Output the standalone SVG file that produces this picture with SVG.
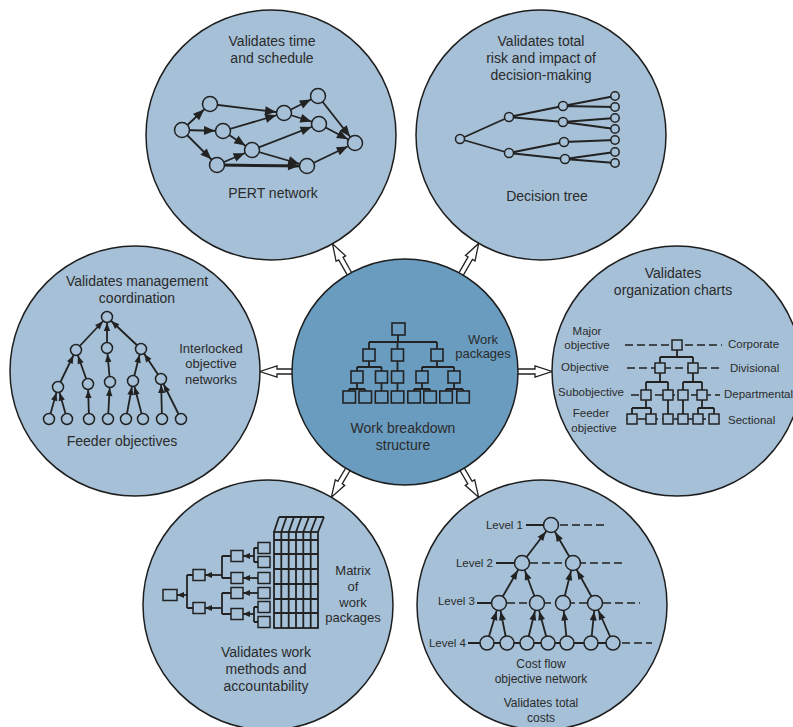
<svg xmlns="http://www.w3.org/2000/svg" width="793" height="727" viewBox="0 0 793 727">
<style>
.bg{fill:#a5c0d7;stroke:#1e1e1e;stroke-width:1.5}
.ctr{fill:#6a9cc0;stroke:#1e1e1e;stroke-width:1.5}
.e{stroke:#222;stroke-width:1.8;fill:none}
.n{fill:#a5c0d7;stroke:#222;stroke-width:1.5}
.bx{fill:#a5c0d7;stroke:#222;stroke-width:1.5}
.cb{fill:#6a9cc0;stroke:#222;stroke-width:1.6}
.d{stroke:#222;stroke-width:1.6;fill:none;stroke-dasharray:8 4}
.t{font-family:"Liberation Sans",Arial,sans-serif;font-size:14px;fill:#2b2b2b;text-anchor:middle}
.s{font-size:11.5px}
.m{font-size:12px}
.w{font-size:13px}
.l{text-anchor:start}
.r{text-anchor:end}
.arr{fill:#fff;stroke:#222;stroke-width:1.3}
</style>
<defs>
<path id="arr" class="arr" d="M-38,-2.5 L-17,-2.5 L-17,-5.5 L0,0 L-17,5.5 L-17,2.5 L-38,2.5 Z"/>
<marker id="ah" markerUnits="userSpaceOnUse" markerWidth="20" markerHeight="20" refX="19" refY="0" orient="auto" overflow="visible"><path d="M0,-4.5 L11,0 L0,4.5 Z" fill="#222"/></marker>
<marker id="ah2" markerUnits="userSpaceOnUse" markerWidth="20" markerHeight="20" refX="14" refY="0" orient="auto" overflow="visible"><path d="M0,-3.2 L8,0 L0,3.2 Z" fill="#222"/></marker>
<marker id="ah3" markerUnits="userSpaceOnUse" markerWidth="20" markerHeight="20" refX="17.5" refY="0" orient="auto" overflow="visible"><path d="M0,-3.5 L9,0 L0,3.5 Z" fill="#222"/></marker>
<marker id="ah4" markerUnits="userSpaceOnUse" markerWidth="20" markerHeight="20" refX="7" refY="0" orient="auto" overflow="visible"><path d="M0,-3 L7,0 L0,3 Z" fill="#222"/></marker>
</defs>
<rect width="793" height="727" fill="#fff"/>

<g id="connectors">
<use href="#arr" transform="translate(260,371.5) rotate(180)"/>
<use href="#arr" transform="translate(552,371.5)"/>
<use href="#arr" transform="translate(332.5,243.8) rotate(240.5)"/>
<use href="#arr" transform="translate(478.7,243.4) rotate(-60.2)"/>
<use href="#arr" transform="translate(331.4,497.2) rotate(120.5)"/>
<use href="#arr" transform="translate(478.6,497.2) rotate(59.5)"/>
</g>

<g id="pert">
<circle class="bg" cx="271" cy="135" r="125"/>
<text class="t" x="272" y="46">Validates time</text>
<text class="t" x="272" y="63">and schedule</text>
<text class="t" x="273" y="198">PERT network</text>
<g class="e" stroke-width="2" marker-end="url(#ah)">
<line x1="182" y1="130" x2="210" y2="104"/>
<line x1="182" y1="130" x2="223" y2="131"/>
<line x1="182" y1="130" x2="217" y2="165"/>
<line x1="210" y1="104" x2="284" y2="113"/>
<line x1="223" y1="131" x2="284" y2="113"/>
<line x1="223" y1="131" x2="252" y2="150"/>
<line x1="217" y1="165" x2="252" y2="150"/>
<line x1="217" y1="165" x2="307" y2="166" stroke-width="3"/>
<line x1="252" y1="150" x2="319" y2="124"/>
<line x1="252" y1="150" x2="307" y2="166"/>
<line x1="284" y1="113" x2="318" y2="96"/>
<line x1="284" y1="113" x2="319" y2="124"/>
<line x1="318" y1="96" x2="355" y2="143"/>
<line x1="319" y1="124" x2="355" y2="143"/>
<line x1="307" y1="166" x2="355" y2="143"/>
</g>
<g class="n">
<circle cx="182" cy="130" r="7.5"/><circle cx="210" cy="104" r="7.5"/><circle cx="223" cy="131" r="7.5"/>
<circle cx="217" cy="165" r="7.5"/><circle cx="252" cy="150" r="7.5"/><circle cx="284" cy="113" r="7.5"/>
<circle cx="318" cy="96" r="7.5"/><circle cx="319" cy="124" r="7.5"/><circle cx="307" cy="166" r="7.5"/>
<circle cx="355" cy="143" r="7.5"/>
</g>
</g>

<g id="decision-tree">
<circle class="bg" cx="541" cy="135" r="125"/>
<text class="t" x="541" y="46">Validates total</text>
<text class="t" x="541" y="63">risk and impact of</text>
<text class="t" x="541" y="80">decision-making</text>
<text class="t" x="547" y="201">Decision tree</text>
<g class="e" stroke-width="2.2">
<path d="M460,139 L509,117 M460,139 L509,153 M509,117 L563,106 M509,117 L563,122 M509,153 L564,142 M509,153 L565,159 M563,106 L615,96 M563,106 L615,107 M563,122 L615,118 M563,122 L615,129 M564,142 L615,140 M565,159 L615,152 M565,159 L615,163"/>
</g>
<g class="n">
<circle cx="460" cy="139" r="4.5"/><circle cx="509" cy="117" r="4.5"/><circle cx="509" cy="153" r="4.5"/>
<circle cx="563" cy="106" r="4.5"/><circle cx="563" cy="122" r="4.5"/><circle cx="564" cy="142" r="4.5"/><circle cx="565" cy="159" r="4.5"/>
<circle cx="615" cy="96" r="4.2"/><circle cx="615" cy="107" r="4.2"/><circle cx="615" cy="118" r="4.2"/><circle cx="615" cy="129" r="4.2"/>
<circle cx="615" cy="140" r="4.2"/><circle cx="615" cy="152" r="4.2"/><circle cx="615" cy="163" r="4.2"/>
</g>
</g>

<g id="interlocked">
<circle class="bg" cx="135" cy="371" r="125"/>
<text class="t" x="137" y="286">Validates management</text>
<text class="t" x="137" y="303">coordination</text>
<text class="t w" x="211" y="353">Interlocked</text>
<text class="t w" x="211" y="368">objective</text>
<text class="t w" x="211" y="384">networks</text>
<text class="t" x="122" y="446">Feeder objectives</text>
<g class="e" stroke-width="2" marker-end="url(#ah2)">
<line x1="76" y1="350" x2="107" y2="317"/><line x1="107" y1="348" x2="107" y2="317"/><line x1="141" y1="349" x2="107" y2="317"/>
<line x1="58" y1="387" x2="76" y2="350"/><line x1="88" y1="384" x2="76" y2="350"/><line x1="110" y1="382" x2="107" y2="348"/>
<line x1="133" y1="381" x2="141" y2="349"/><line x1="161" y1="379" x2="141" y2="349"/>
<line x1="49" y1="419" x2="58" y2="387"/><line x1="67" y1="419" x2="58" y2="387"/><line x1="89" y1="419" x2="88" y2="384"/>
<line x1="108" y1="419" x2="110" y2="382"/><line x1="126" y1="419" x2="133" y2="381"/><line x1="143" y1="419" x2="133" y2="381"/>
<line x1="162" y1="419" x2="161" y2="379"/><line x1="181" y1="419" x2="161" y2="379"/>
</g>
<g class="n">
<circle cx="107" cy="317" r="5.5"/><circle cx="76" cy="350" r="5.5"/><circle cx="107" cy="348" r="5.5"/><circle cx="141" cy="349" r="5.5"/>
<circle cx="58" cy="387" r="5.5"/><circle cx="88" cy="384" r="5.5"/><circle cx="110" cy="382" r="5.5"/><circle cx="133" cy="381" r="5.5"/><circle cx="161" cy="379" r="5.5"/>
<circle cx="49" cy="419" r="5.5"/><circle cx="67" cy="419" r="5.5"/><circle cx="89" cy="419" r="5.5"/><circle cx="108" cy="419" r="5.5"/>
<circle cx="126" cy="419" r="5.5"/><circle cx="143" cy="419" r="5.5"/><circle cx="162" cy="419" r="5.5"/><circle cx="181" cy="419" r="5.5"/>
</g>
</g>

<g id="org-charts">
<circle class="bg" cx="677" cy="371" r="125"/>
<text class="t" x="673" y="278">Validates</text>
<text class="t" x="673" y="295">organization charts</text>
<g class="t s">
<text x="587" y="335">Major</text><text x="587" y="349">objective</text>
<text x="585" y="371">Objective</text>
<text x="591" y="396">Subobjective</text>
<text x="591" y="417">Feeder</text><text x="594" y="432">objective</text>
<text class="l" x="728" y="348">Corporate</text>
<text class="l" x="730" y="372">Divisional</text>
<text class="l" x="724" y="398">Departmental</text>
<text class="l" x="728" y="424">Sectional</text>
</g>
<g class="d">
<line x1="625" y1="345" x2="722" y2="345"/>
<line x1="627" y1="368" x2="722" y2="368"/>
<line x1="631" y1="395" x2="720" y2="395"/>
<line x1="626" y1="419" x2="722" y2="419"/>
</g>
<path class="e" d="M677,350 V357 M660,357 H693 M660,357 V363 M693,357 V363 M660,373 V382 M646,382 H668 M646,382 V390 M668,382 V390 M693,373 V382 M683,382 H702 M683,382 V390 M702,382 V390 M646,400 V408 M632,408 H651 M632,408 V414 M651,408 V414 M668,400 V414 M683,400 V414 M702,400 V408 M698,408 H714 M698,408 V414 M714,408 V414"/>
<g class="bx">
<rect x="672" y="340" width="10" height="10"/>
<rect x="655" y="363" width="10" height="10"/><rect x="688" y="363" width="10" height="10"/>
<rect x="641" y="390" width="10" height="10"/><rect x="663" y="390" width="10" height="10"/><rect x="678" y="390" width="10" height="10"/><rect x="697" y="390" width="10" height="10"/>
<rect x="627" y="414" width="10" height="10"/><rect x="646" y="414" width="10" height="10"/><rect x="663" y="414" width="10" height="10"/>
<rect x="678" y="414" width="10" height="10"/><rect x="693" y="414" width="10" height="10"/><rect x="709" y="414" width="10" height="10"/>
</g>
</g>

<g id="wbs">
<circle class="ctr" cx="405" cy="372" r="113"/>
<text class="t w" x="483" y="344">Work</text>
<text class="t w" x="483" y="358">packages</text>
<text class="t" x="403" y="433">Work breakdown</text>
<text class="t" x="403" y="450">structure</text>
<path class="e" stroke-width="2" d="M398,335 V342 M369,342 H437 M369,342 V349 M397.5,342 V349 M437,342 V349 M369,361 V367 M357,367 H381.5 M357,367 V371 M381.5,367 V371 M397.5,361 V371 M437,361 V367 M422,367 H454 M422,367 V371 M454,367 V371 M357,383 V389 M349,389 H365 M349,389 V391 M365,389 V391 M381.5,383 V391 M397.5,383 V391 M422,383 V389 M414,389 H430 M414,389 V391 M430,389 V391 M454,383 V389 M446,389 H463 M446,389 V391 M463,389 V391"/>
<g class="cb">
<rect x="392" y="323" width="13" height="12"/>
<rect x="363" y="349" width="12" height="12"/><rect x="391.5" y="349" width="12" height="12"/><rect x="431" y="349" width="12" height="12"/>
<rect x="351" y="371" width="12" height="12"/><rect x="375.5" y="371" width="12" height="12"/><rect x="391.5" y="371" width="12" height="12"/><rect x="416" y="371" width="12" height="12"/><rect x="448" y="371" width="12" height="12"/>
<rect x="343" y="391" width="12.5" height="12"/><rect x="359" y="391" width="12.5" height="12"/><rect x="375.3" y="391" width="12.5" height="12"/><rect x="391.3" y="391" width="12.5" height="12"/>
<rect x="407.8" y="391" width="12.5" height="12"/><rect x="423.8" y="391" width="12.5" height="12"/><rect x="439.8" y="391" width="12.5" height="12"/><rect x="456.8" y="391" width="12.5" height="12"/>
</g>
</g>

<g id="work-matrix">
<circle class="bg" cx="268" cy="605" r="125"/>
<g class="t w">
<text x="353" y="575">Matrix</text><text x="353" y="591">of</text><text x="353" y="606.5">work</text><text x="353" y="622">packages</text>
</g>
<text class="t" x="266" y="657">Validates work</text>
<text class="t" x="266" y="674">methods and</text>
<text class="t" x="266" y="691">accountability</text>
<g class="e" stroke-width="1.6">
<rect x="274" y="532" width="44" height="96" fill="none"/>
<path d="M281.3,532 V628 M288.7,532 V628 M296,532 V628 M303.3,532 V628 M310.7,532 V628 M274,540 H318 M274,554 H318 M274,569 H318 M274,584 H318 M274,599 H318 M274,613 H318"/>
<path d="M279,517 H324 M274,532 L279,517 M281.3,532 L286.5,517 M288.7,532 L294,517 M296,532 L301.5,517 M303.3,532 L309,517 M310.7,532 L316.5,517 M318,532 L324,517"/>
</g>
<path class="e" stroke-width="1.6" d="M258,548 H254 M258,562 H254 M254,548 V562 M258,607 H254 M258,622 H254 M254,607 V622 M231,556 H222 M231,578 H222 M222,556 V578 M231,593 H222 M231,614 H222 M222,593 V614 M193,575 H187 M193,608 H187 M187,575 V608"/>
<g class="e" stroke-width="1.8" marker-end="url(#ah4)">
<line x1="254" y1="556" x2="243" y2="556"/>
<line x1="258" y1="578" x2="243" y2="578"/>
<line x1="258" y1="593" x2="243" y2="593"/>
<line x1="254" y1="614" x2="243" y2="614"/>
<line x1="222" y1="575" x2="205" y2="575"/>
<line x1="222" y1="608" x2="205" y2="608"/>
<line x1="187" y1="595" x2="177" y2="595"/>
</g>
<g class="bx">
<rect x="163" y="589.5" width="14" height="11"/>
<rect x="193" y="569.5" width="12" height="11"/><rect x="193" y="602.5" width="12" height="11"/>
<rect x="231" y="550.5" width="12" height="11"/><rect x="231" y="572.5" width="12" height="11"/><rect x="231" y="587.5" width="12" height="11"/><rect x="231" y="608.5" width="12" height="11"/>
<rect x="258" y="542.5" width="12" height="11"/><rect x="258" y="556.5" width="12" height="11"/><rect x="258" y="572.5" width="12" height="11"/>
<rect x="258" y="587.5" width="12" height="11"/><rect x="258" y="601.5" width="12" height="11"/><rect x="258" y="616.5" width="12" height="11"/>
</g>
</g>

<g id="cost-flow">
<circle class="bg" cx="542" cy="605" r="125"/>
<g class="t s r">
<text x="523" y="529">Level 1</text>
<text x="493" y="567">Level 2</text>
<text x="475" y="605">Level 3</text>
<text x="466" y="647">Level 4</text>
</g>
<g class="t m">
<text x="541" y="668">Cost flow</text>
<text x="541" y="683">objective network</text>
<text x="541" y="707">Validates total</text>
<text x="541" y="722">costs</text>
</g>
<path class="e" stroke-width="1.6" d="M526,525 H545 M496,563 H515 M477,603 H492 M468,643 H615"/>
<g class="d" stroke-dasharray="10 6">
<line x1="560" y1="525" x2="606" y2="525"/>
<line x1="530" y1="563" x2="622" y2="563"/>
<line x1="507" y1="603" x2="640" y2="603"/>
<line x1="622" y1="643" x2="652" y2="643"/>
</g>
<g class="e" stroke-width="2" marker-end="url(#ah3)">
<line x1="522" y1="563" x2="551" y2="525"/><line x1="573" y1="563" x2="551" y2="525"/>
<line x1="499" y1="603" x2="522" y2="563"/><line x1="537" y1="603" x2="522" y2="563"/>
<line x1="563" y1="603" x2="573" y2="563"/><line x1="595" y1="603" x2="573" y2="563"/>
<line x1="487" y1="643" x2="499" y2="603"/><line x1="507" y1="643" x2="499" y2="603"/>
<line x1="527" y1="643" x2="537" y2="603"/><line x1="548" y1="643" x2="537" y2="603"/>
<line x1="567" y1="643" x2="563" y2="603"/><line x1="591" y1="643" x2="595" y2="603"/><line x1="613" y1="643" x2="595" y2="603"/>
</g>
<g class="n">
<circle cx="551" cy="525" r="7.5"/>
<circle cx="522" cy="563" r="7.5"/><circle cx="573" cy="563" r="7.5"/>
<circle cx="499" cy="603" r="7.5"/><circle cx="537" cy="603" r="7.5"/><circle cx="563" cy="603" r="7.5"/><circle cx="595" cy="603" r="7.5"/>
<circle cx="487" cy="643" r="7"/><circle cx="507" cy="643" r="7"/><circle cx="527" cy="643" r="7"/><circle cx="548" cy="643" r="7"/>
<circle cx="567" cy="643" r="7"/><circle cx="591" cy="643" r="7"/><circle cx="613" cy="643" r="7"/>
</g>
</g>
</svg>
